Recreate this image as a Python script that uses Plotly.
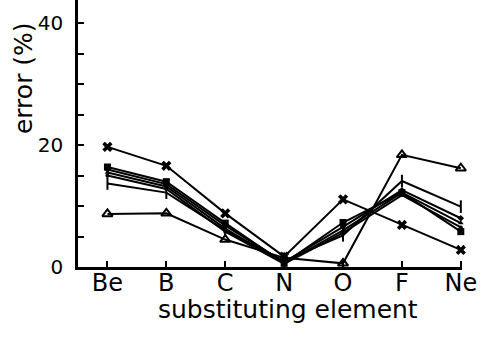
import plotly.graph_objects as go

# Substituting elements along the x axis
elements = ["Be", "B", "C", "N", "O", "F", "Ne"]

# Error (%) for each curve
err_cross = [19.7, 16.6, 8.8, 1.7, 11.1, 6.9, 2.8]
err_square = [16.4, 14.0, 7.2, 0.6, 7.3, 12.2, 5.8]
err_a = [16.0, 13.6, 6.8, 0.8, 6.6, 12.6, 8.0]
err_b = [15.5, 13.2, 6.3, 0.6, 6.0, 12.2, 7.2]
err_c = [15.0, 12.8, 5.8, 0.5, 5.6, 11.8, 6.5]
err_bar = [13.7, 12.2, 6.0, 1.0, 5.2, 14.1, 9.9]
err_tri = [8.7, 8.8, 4.5, 1.5, 0.6, 18.4, 16.2]

y_major = [0, 20, 40]

FONT = "DejaVu Sans"
BLACK = "#000000"

series = [
    (err_cross, dict(symbol="x", size=9)),
    (err_square, dict(symbol="square", size=7)),
    (err_a, dict(symbol="diamond", size=5)),
    (err_b, dict(symbol="triangle-up", size=5)),
    (err_c, dict(symbol="circle", size=4)),
    (err_bar, dict(symbol="line-ns-open", size=9, line=dict(width=2, color=BLACK))),
    (err_tri, dict(symbol="triangle-up-open", size=9, line=dict(width=2, color=BLACK))),
]

fig = go.Figure()
for vals, mk in series:
    mk = dict(mk)
    mk.setdefault("color", BLACK)
    fig.add_trace(go.Scatter(
        x=list(range(len(elements))), y=vals, mode="lines+markers",
        line=dict(color=BLACK, width=2), marker=mk, cliponaxis=False,
        showlegend=False,
    ))

fig.update_layout(
    width=487, height=342,
    margin=dict(l=78, r=25, t=0, b=75),
    paper_bgcolor="white", plot_bgcolor="white",
    font=dict(family=FONT, color=BLACK),
    xaxis=dict(
        range=[-0.5, 6.02], tickvals=list(range(len(elements))), ticktext=elements,
        showline=True, linecolor=BLACK, linewidth=2.5, showgrid=False, zeroline=False,
        ticks="inside", ticklen=6, tickwidth=1.5, tickcolor=BLACK,
        tickfont=dict(size=24, family=FONT, color=BLACK), ticklabelstandoff=-8,
    ),
    yaxis=dict(
        range=[0, 43.8], tickvals=y_major,
        showline=True, linecolor=BLACK, linewidth=2.5, showgrid=False, zeroline=False,
        ticks="inside", ticklen=6, tickwidth=1.5, tickcolor=BLACK,
        minor=dict(dtick=5, ticks="inside", ticklen=6, tickwidth=1.5, tickcolor=BLACK, showgrid=False),
        tickfont=dict(size=20, family=FONT, color=BLACK), ticklabelstandoff=8,
    ),
    annotations=[
        dict(text="error (%)", xref="paper", yref="y", x=-0.143, y=31,
             textangle=-90, showarrow=False, font=dict(size=25, family=FONT, color=BLACK),
             xanchor="center", yanchor="middle"),
        dict(text="substituting element", xref="paper", yref="paper", x=0.547, y=-0.161,
             showarrow=False, font=dict(size=25, family=FONT, color=BLACK),
             xanchor="center", yanchor="middle"),
    ],
)

fig.write_html("out.html")
